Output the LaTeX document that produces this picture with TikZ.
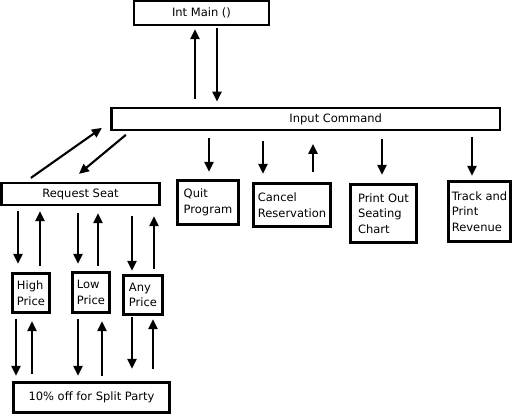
\documentclass[tikz,border=0pt]{standalone}
\usepackage{fontspec}
\setmainfont{DejaVu Sans}
\usetikzlibrary{arrows.meta,calc}
\begin{document}
\begin{tikzpicture}[x=1pt,y=-1pt,
  box/.style={draw,line width=2.2pt,inner sep=0pt,align=left,
    font=\fontsize{11.5}{15.5}\selectfont},
  arr/.style={line width=2.1pt,-{Triangle[length=10pt,width=9pt]}}]
\useasboundingbox (0,0) rectangle (513,414);
\node[box,minimum width=135pt,minimum height=24pt] (main) at (201.5,13) {Int Main ()};
\node[box,minimum width=388.5pt,minimum height=22.5pt] (input) at (305.75,119) {\hspace*{60pt}Input Command};
\node[box,minimum width=158pt,minimum height=22pt] (request) at (80.5,194) {Request Seat};
\node[box,minimum width=61pt,minimum height=44pt] (quit) at (208,202.5) {Quit\\Program};
\node[box,minimum width=77pt,minimum height=43pt] (cancel) at (292,205) {Cancel\\Reservation};
\node[box,minimum width=66pt,minimum height=58pt] (print) at (383.5,213.5) {Print Out\\Seating\\Chart};
\node[box,minimum width=62pt,minimum height=60pt] (track) at (479.5,211.5) {Track and\\Print\\Revenue};
\node[box,minimum width=37pt,minimum height=39pt] (high) at (31,293) {High\\Price};
\node[box,minimum width=37pt,minimum height=40pt] (low) at (91,292.5) {Low\\Price};
\node[box,minimum width=39pt,minimum height=39pt] (any) at (143,295) {Any\\Price};
\node[box,minimum width=156pt,minimum height=30pt] (split) at (91.5,397.5) {10\% off for Split Party};
% main <-> input
\draw[arr,shorten <=8pt,shorten >=3pt] (195,0 |- input.north) -- (195,0 |- main.south);
\draw[arr,shorten <=2pt,shorten >=5pt] (217,0 |- main.south) -- (217,0 |- input.north);
% request <-> input (diagonals)
\draw[arr] ($(request.north west)+(30.5,-4)$) -- ($(input.south west)+(-8.5,-3.5)$);
\draw[arr] ($(input.south west)+(15.5,3.5)$) -- ($(request.north west)+(78.5,-8)$);
% input -> options
\draw[arr,shorten <=6.5pt,shorten >=7.5pt] (209,0 |- input.south) -- (209,0 |- quit.north);
\draw[arr,shorten <=9.5pt,shorten >=8.5pt] (263,0 |- input.south) -- (263,0 |- cancel.north);
\draw[arr,shorten <=10.5pt,shorten >=12.5pt] (313,0 |- cancel.north) -- (313,0 |- input.south);
\draw[arr,shorten <=7.5pt,shorten >=8.5pt] (382,0 |- input.south) -- (382,0 |- print.north);
\draw[arr,shorten <=5.5pt,shorten >=4.5pt] (472,0 |- input.south) -- (472,0 |- track.north);
% request <-> price boxes
\draw[arr,shorten <=5pt,shorten >=8.5pt] (18,0 |- request.south) -- (18,0 |- high.north);
\draw[arr,shorten <=6.5pt,shorten >=5pt] (40,0 |- high.north) -- (40,0 |- request.south);
\draw[arr,shorten <=7pt,shorten >=7.5pt] (78,0 |- request.south) -- (78,0 |- low.north);
\draw[arr,shorten <=5.5pt,shorten >=7pt] (98,0 |- low.north) -- (98,0 |- request.south);
\draw[arr,shorten <=10pt,shorten >=3.5pt] (132,0 |- request.south) -- (132,0 |- any.north);
\draw[arr,shorten <=5.5pt,shorten >=10pt] (154,0 |- any.north) -- (154,0 |- request.south);
% price boxes <-> split
\draw[arr,shorten <=5.5pt,shorten >=5.5pt] (16,0 |- high.south) -- (16,0 |- split.north);
\draw[arr,shorten <=7.5pt,shorten >=7.5pt] (32,0 |- split.north) -- (32,0 |- high.south);
\draw[arr,shorten <=5.5pt,shorten >=5.5pt] (78,0 |- low.south) -- (78,0 |- split.north);
\draw[arr,shorten <=5.5pt,shorten >=7.5pt] (102,0 |- split.north) -- (102,0 |- low.south);
\draw[arr,shorten <=1.5pt,shorten >=12.5pt] (132,0 |- any.south) -- (132,0 |- split.north);
\draw[arr,shorten <=12.5pt,shorten >=3.5pt] (153,0 |- split.north) -- (153,0 |- any.south);
\end{tikzpicture}
\end{document}
